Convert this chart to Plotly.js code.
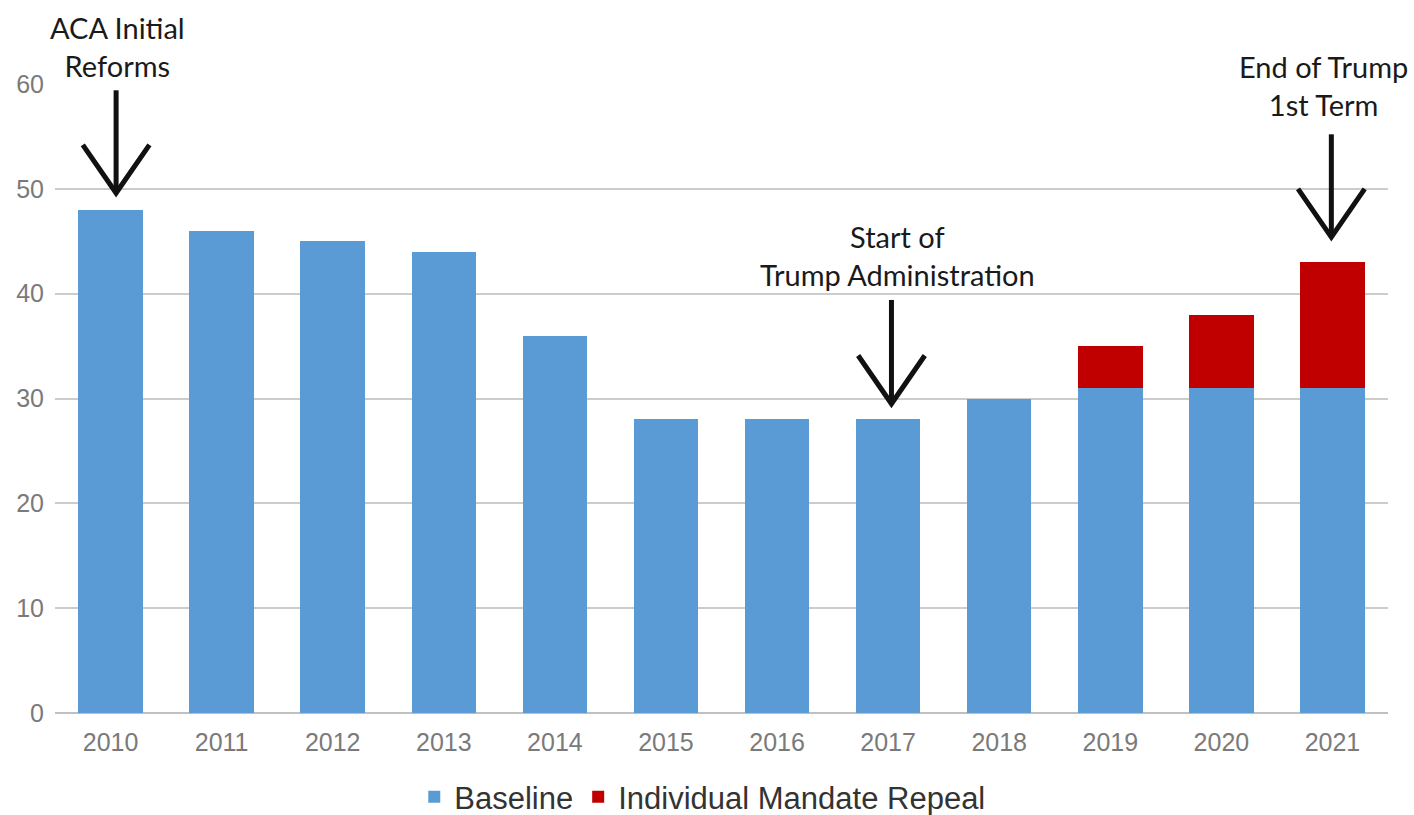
<!DOCTYPE html>
<html><head><meta charset="utf-8">
<script src="https://cdn.plot.ly/plotly-3.0.1.min.js"></script>
<style>html,body{margin:0;padding:0;background:#fff}#chart{width:1414px;height:815px}</style>
</head><body><div id="chart"></div>
<script>
const years = ['2010','2011','2012','2013','2014','2015','2016','2017','2018','2019','2020','2021'];
const baseline = [48,46,45,44,36,28,28,28,30,31,31,31];
const repeal = [null,null,null,null,null,null,null,null,null,4,7,12];
const yTicks = [0,10,20,30,40,50,60];
const notes = [
  {year:'2010', text:'ACA Initial<br>Reforms', textX:0.06, textY:1.059, top:59.4, tip:49.6, dx:0.05},
  {year:'2017', text:'Start of<br>Trump Administration', textX:0.08, textY:0.728, top:39.4, tip:29.5, dx:0.03},
  {year:'2021', text:'End of Trump<br>1st Term', textX:-0.08, textY:0.997, top:55.2, tip:45.4, dx:-0.01}
];

const traces = [
  {type:'bar', name:'Baseline', x:years, y:baseline, marker:{color:'#5b9bd5'}},
  {type:'bar', name:'Individual Mandate Repeal', x:years, y:repeal, marker:{color:'#c00000'}}
];

const shapes = [];
const annotations = [];
notes.forEach(n => {
  const xi = years.indexOf(n.year) + n.dx;
  const headH = 4.6, headW = 0.3;
  shapes.push({type:'line', xref:'x', yref:'y', x0:xi, x1:xi, y0:n.top, y1:n.tip, line:{color:'#111', width:5}});
  shapes.push({type:'path', xref:'x', yref:'y',
    path:`M ${xi-headW} ${n.tip+headH} L ${xi} ${n.tip} L ${xi+headW} ${n.tip+headH}`,
    line:{color:'#111', width:5}});
  annotations.push({xref:'x', yref:'paper', x:years.indexOf(n.year)+n.textX, y:n.textY, yanchor:'middle',
    text:n.text, showarrow:false,
    font:{family:'Lato, sans-serif', size:29, color:'#1a1a1a'}, align:'center'});
});

const layout = {
  width:1414, height:815,
  margin:{l:55, r:26, t:84, b:102, autoexpand:false},
  paper_bgcolor:'#fff', plot_bgcolor:'#fff',
  barmode:'stack', bargap:0.42,
  font:{family:'Liberation Sans, Arial, sans-serif'},
  xaxis:{type:'category', range:[-0.5, years.length-0.5], automargin:false, tickfont:{size:25, color:'#7a7a7a'}, ticks:'', showline:false, showgrid:false, ticklabelstandoff:12},
  yaxis:{range:[0,60], automargin:false, tickvals:yTicks, ticktext:yTicks.map(String), tickfont:{size:25, color:'#7a7a7a'},
    gridcolor:'#cccccc', gridwidth:2, zeroline:true, zerolinecolor:'#c0c0c0', zerolinewidth:2, ticks:'', ticklabelstandoff:10, showline:false},
  showlegend:true,
  legend:{orientation:'h', xref:'container', yref:'container', x:0.497, xanchor:'center', y:0.022, yanchor:'middle',
    font:{size:31, color:'#333'}, itemwidth:30, traceorder:'normal'},
  shapes:shapes, annotations:annotations
};
Plotly.newPlot('chart', traces, layout, {displayModeBar:false, staticPlot:true});
</script></body></html>
